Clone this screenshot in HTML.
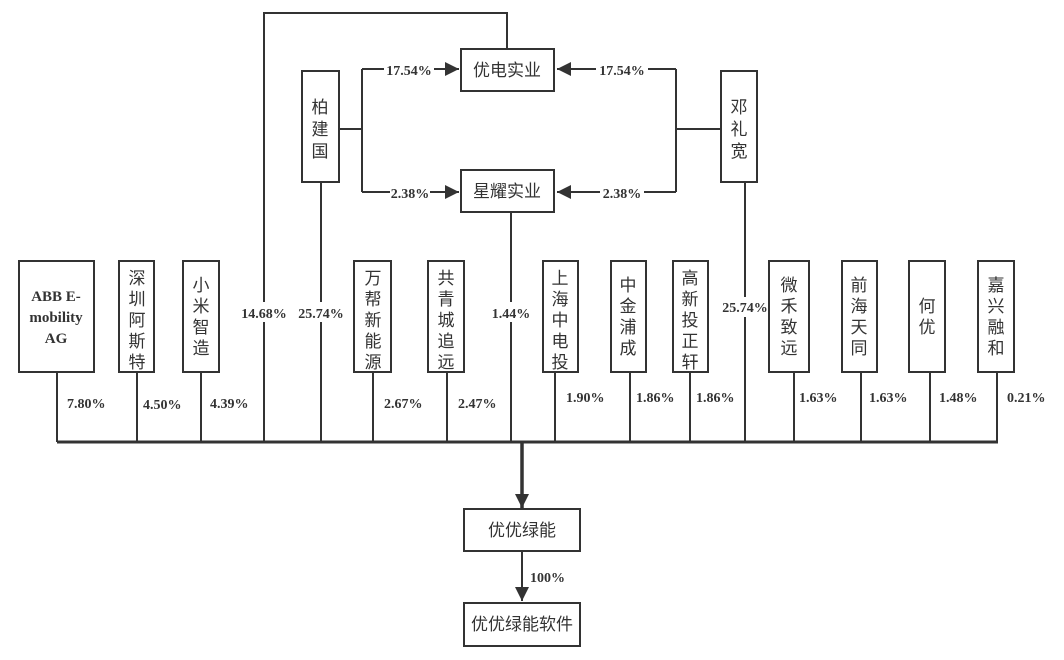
<!DOCTYPE html>
<html><head><meta charset="utf-8"><style>
html,body{margin:0;padding:0;background:#fff;}
svg{display:block}
.n{font-family:"Liberation Serif",serif;font-size:14px;fill:#333;font-weight:bold}
.c{font-family:"Liberation Sans","Noto Sans CJK SC",sans-serif;font-size:17px;fill:#333}
.b{fill:#fff;stroke:#333;stroke-width:2}
.l{stroke:#333;stroke-width:2;fill:none}
</style></head><body>
<svg width="1064" height="660" viewBox="0 0 1064 660" xmlns="http://www.w3.org/2000/svg">
<defs><marker id="a" markerWidth="10" markerHeight="10" refX="9" refY="5" orient="auto" markerUnits="userSpaceOnUse"><path d="M0,0 L10,5 L0,10 z" fill="#333"/></marker>
<marker id="a2" markerWidth="14" markerHeight="16" refX="14" refY="7" orient="auto" markerUnits="userSpaceOnUse"><path d="M0,0 L14,7 L0,14 z" fill="#333"/></marker></defs>

<!-- connectors -->
<path class="l" d="M264,441 V13 H507 V49"/>
<path class="l" d="M339,129 H362 M362,69 V192"/>
<path class="l" d="M362,69 H459" marker-end="url(#a2)"/>
<path class="l" d="M362,192 H459" marker-end="url(#a2)"/>
<path class="l" d="M721,129 H676 M676,69 V192"/>
<path class="l" d="M676,69 H557" marker-end="url(#a2)"/>
<path class="l" d="M676,192 H557" marker-end="url(#a2)"/>
<path class="l" d="M321,182 V442 M511,212 V442 M745,182 V442"/>
<path class="l" d="M57,372 V442 M137,372 V442 M201,372 V442 M373,372 V442 M447,372 V442 M555,372 V442 M630,372 V442 M690,372 V442 M794,372 V442 M861,372 V442 M930,372 V442 M997,372 V442"/>
<path d="M57,442 H998" stroke="#333" stroke-width="3"/>
<path d="M522,442 V508" stroke="#333" stroke-width="3.5" marker-end="url(#a2)"/>
<path class="l" d="M522,551 V601" marker-end="url(#a2)"/>

<!-- label backgrounds -->
<rect x="384" y="60" width="50" height="18" fill="#fff"/>
<text class="n" x="409" y="75" text-anchor="middle">17.54%</text>
<rect x="390" y="183" width="40" height="18" fill="#fff"/>
<text class="n" x="410" y="198" text-anchor="middle">2.38%</text>
<rect x="596" y="60" width="52" height="18" fill="#fff"/>
<text class="n" x="622" y="75" text-anchor="middle">17.54%</text>
<rect x="600" y="183" width="44" height="18" fill="#fff"/>
<text class="n" x="622" y="198" text-anchor="middle">2.38%</text>
<rect x="240" y="302" width="48" height="20" fill="#fff"/>
<text class="n" x="264" y="318" text-anchor="middle">14.68%</text>
<rect x="297" y="302" width="48" height="20" fill="#fff"/>
<text class="n" x="321" y="318" text-anchor="middle">25.74%</text>
<rect x="490" y="302" width="42" height="20" fill="#fff"/>
<text class="n" x="511" y="318" text-anchor="middle">1.44%</text>
<rect x="721" y="297" width="48" height="20" fill="#fff"/>
<text class="n" x="745" y="312" text-anchor="middle">25.74%</text>

<text class="n" x="67" y="408">7.80%</text>
<text class="n" x="143" y="409">4.50%</text>
<text class="n" x="210" y="408">4.39%</text>
<text class="n" x="384" y="408">2.67%</text>
<text class="n" x="458" y="408">2.47%</text>
<text class="n" x="566" y="402">1.90%</text>
<text class="n" x="636" y="402">1.86%</text>
<text class="n" x="696" y="402">1.86%</text>
<text class="n" x="799" y="402">1.63%</text>
<text class="n" x="869" y="402">1.63%</text>
<text class="n" x="939" y="402">1.48%</text>
<text class="n" x="1007" y="402">0.21%</text>
<text class="n" x="530" y="582">100%</text>

<!-- top boxes -->
<rect class="b" x="461" y="49" width="93" height="42"/>
<text class="c" x="507" y="76" text-anchor="middle">优电实业</text>
<rect class="b" x="461" y="170" width="93" height="42"/>
<text class="c" x="507" y="197" text-anchor="middle">星耀实业</text>
<rect class="b" x="302" y="71" width="37" height="111"/>
<text class="c" text-anchor="middle"><tspan x="320" y="113">柏</tspan><tspan x="320" y="135">建</tspan><tspan x="320" y="157">国</tspan></text>
<rect class="b" x="721" y="71" width="36" height="111"/>
<text class="c" text-anchor="middle"><tspan x="739" y="113">邓</tspan><tspan x="739" y="135">礼</tspan><tspan x="739" y="157">宽</tspan></text>

<!-- bottom row -->
<rect class="b" x="19" y="261" width="75" height="111"/>
<text class="n" text-anchor="middle" style="font-size:15px"><tspan x="56" y="301">ABB E-</tspan><tspan x="56" y="322">mobility</tspan><tspan x="56" y="343">AG</tspan></text>

<g class="c" text-anchor="middle">
<rect class="b" x="119" y="261" width="35" height="111"/>
<text><tspan x="137" y="284">深</tspan><tspan x="137" y="305">圳</tspan><tspan x="137" y="326">阿</tspan><tspan x="137" y="347">斯</tspan><tspan x="137" y="368">特</tspan></text>
<rect class="b" x="183" y="261" width="36" height="111"/>
<text><tspan x="201" y="291">小</tspan><tspan x="201" y="312">米</tspan><tspan x="201" y="333">智</tspan><tspan x="201" y="354">造</tspan></text>
<rect class="b" x="354" y="261" width="37" height="111"/>
<text><tspan x="373" y="284">万</tspan><tspan x="373" y="305">帮</tspan><tspan x="373" y="326">新</tspan><tspan x="373" y="347">能</tspan><tspan x="373" y="368">源</tspan></text>
<rect class="b" x="428" y="261" width="36" height="111"/>
<text><tspan x="446" y="284">共</tspan><tspan x="446" y="305">青</tspan><tspan x="446" y="326">城</tspan><tspan x="446" y="347">追</tspan><tspan x="446" y="368">远</tspan></text>
<rect class="b" x="543" y="261" width="35" height="111"/>
<text><tspan x="560" y="284">上</tspan><tspan x="560" y="305">海</tspan><tspan x="560" y="326">中</tspan><tspan x="560" y="347">电</tspan><tspan x="560" y="368">投</tspan></text>
<rect class="b" x="611" y="261" width="35" height="111"/>
<text><tspan x="628" y="291">中</tspan><tspan x="628" y="312">金</tspan><tspan x="628" y="333">浦</tspan><tspan x="628" y="354">成</tspan></text>
<rect class="b" x="673" y="261" width="35" height="111"/>
<text><tspan x="690" y="284">高</tspan><tspan x="690" y="305">新</tspan><tspan x="690" y="326">投</tspan><tspan x="690" y="347">正</tspan><tspan x="690" y="368">轩</tspan></text>
<rect class="b" x="769" y="261" width="40" height="111"/>
<text><tspan x="789" y="291">微</tspan><tspan x="789" y="312">禾</tspan><tspan x="789" y="333">致</tspan><tspan x="789" y="354">远</tspan></text>
<rect class="b" x="842" y="261" width="35" height="111"/>
<text><tspan x="859" y="291">前</tspan><tspan x="859" y="312">海</tspan><tspan x="859" y="333">天</tspan><tspan x="859" y="354">同</tspan></text>
<rect class="b" x="909" y="261" width="36" height="111"/>
<text><tspan x="927" y="312">何</tspan><tspan x="927" y="333">优</tspan></text>
<rect class="b" x="978" y="261" width="36" height="111"/>
<text><tspan x="996" y="291">嘉</tspan><tspan x="996" y="312">兴</tspan><tspan x="996" y="333">融</tspan><tspan x="996" y="354">和</tspan></text>
</g>

<rect class="b" x="464" y="509" width="116" height="42"/>
<text class="c" x="522" y="536" text-anchor="middle">优优绿能</text>
<rect class="b" x="464" y="603" width="116" height="43"/>
<text class="c" x="522" y="630" text-anchor="middle">优优绿能软件</text>
</svg>
</body></html>
